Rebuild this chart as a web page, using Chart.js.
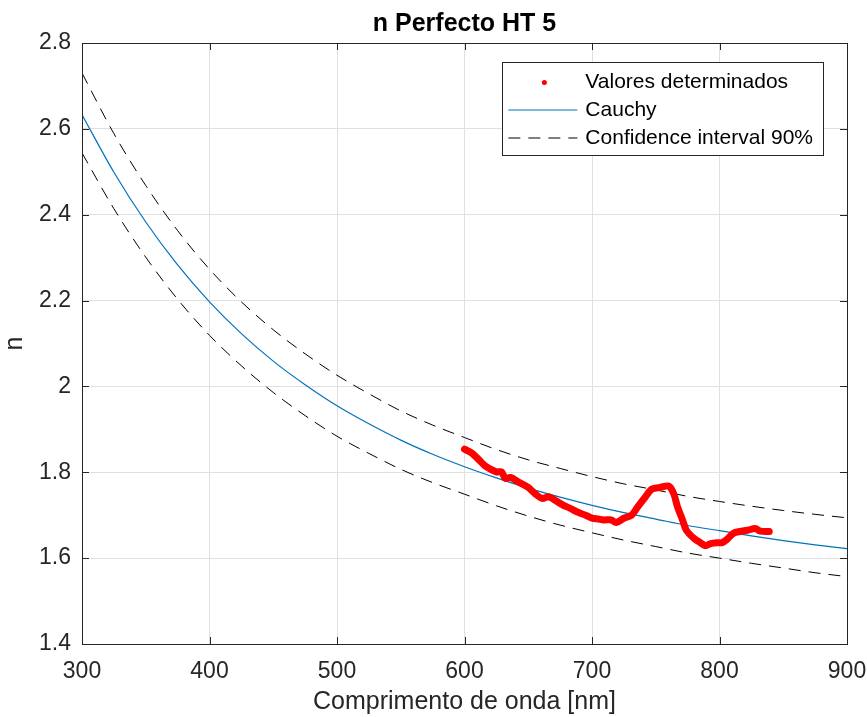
<!DOCTYPE html>
<html>
<head>
<meta charset="utf-8">
<script src="https://cdn.jsdelivr.net/npm/chart.js@4.4.0/dist/chart.umd.min.js"></script>
<style>
    html, body { margin: 0; padding: 0; background: #fff; }
    #wrap { width: 867px; height: 717px; }
</style>
</head>
<body>
<div id="wrap"><canvas id="grafico" width="867" height="717"></canvas></div>
<script>
// Curvas de ajuste, longitud de onda en nm
const lambdaCurva = [300, 325, 350, 375, 400, 425, 450, 475, 500, 525, 550, 575, 600,
                     625, 650, 675, 700, 725, 750, 775, 800, 825, 850, 875, 900];
const nCauchy = [2.633, 2.499, 2.383, 2.283, 2.197, 2.123, 2.059, 2.004, 1.955, 1.913, 1.875, 1.842, 1.813,
                 1.787, 1.763, 1.742, 1.723, 1.706, 1.691, 1.676, 1.664, 1.652, 1.641, 1.631, 1.622];
const nSuperior = [2.730, 2.589, 2.468, 2.363, 2.273, 2.197, 2.132, 2.076, 2.026, 1.983, 1.943, 1.910, 1.881,
                   1.853, 1.829, 1.809, 1.790, 1.773, 1.759, 1.744, 1.732, 1.721, 1.711, 1.702, 1.694];
const nInferior = [2.544, 2.414, 2.301, 2.203, 2.119, 2.048, 1.986, 1.932, 1.884, 1.844, 1.807, 1.776, 1.749,
                   1.722, 1.698, 1.677, 1.659, 1.642, 1.627, 1.612, 1.600, 1.588, 1.577, 1.566, 1.557];

// Valores determinados (puntos rojos)
const lambdaMedida = [600, 606, 611, 617, 625, 629, 632, 636, 642, 650, 655, 661, 666, 671, 677, 683,
                      688, 695, 700, 705, 709, 715, 719, 725, 731, 736, 742, 747, 754, 760, 764, 767,
                      771, 774, 780, 785, 789, 793, 798, 802, 806, 811, 816, 822, 828, 832, 839];
const nMedida = [1.854, 1.844, 1.830, 1.813, 1.801, 1.801, 1.786, 1.788, 1.778, 1.765, 1.751, 1.739, 1.743, 1.735, 1.724, 1.716,
                 1.708, 1.700, 1.693, 1.691, 1.689, 1.689, 1.683, 1.693, 1.700, 1.720, 1.743, 1.761, 1.765, 1.768, 1.751, 1.720,
                 1.689, 1.665, 1.646, 1.636, 1.629, 1.634, 1.636, 1.636, 1.644, 1.658, 1.662, 1.665, 1.669, 1.663, 1.662];

const ticksX = [300, 400, 500, 600, 700, 800, 900];
const ticksY = [1.4, 1.6, 1.8, 2.0, 2.2, 2.4, 2.6, 2.8];

const titulo = 'n Perfecto HT 5';
const etiquetasLeyenda = ['Valores determinados', 'Cauchy', 'Confidence interval 90%'];

const FUENTE = '"Liberation Sans", Arial, Helvetica, sans-serif';
const COLOR_EJE = '#262626';

const pares = (xs, ys) => xs.map((x, i) => ({ x: x, y: ys[i] }));

/**
 * Plugin: marco, ticks hacia dentro, título y leyenda estilo MATLAB
 */
const estiloMatlab = {
    id: 'estiloMatlab',
    afterDatasetsDraw(chart) {
        const ctx = chart.ctx;
        const a = chart.chartArea;
        const sx = chart.scales.x;
        const sy = chart.scales.y;
        const tick = 7;

        ctx.save();
        ctx.strokeStyle = COLOR_EJE;
        ctx.lineWidth = 1;

        // Ticks hacia dentro en los cuatro lados
        ctx.beginPath();
        ticksX.forEach(v => {
            const px = Math.round(sx.getPixelForValue(v)) + 0.5;
            ctx.moveTo(px, a.bottom); ctx.lineTo(px, a.bottom - tick);
            ctx.moveTo(px, a.top); ctx.lineTo(px, a.top + tick);
        });
        ticksY.forEach(v => {
            const py = Math.round(sy.getPixelForValue(v)) + 0.5;
            ctx.moveTo(a.left, py); ctx.lineTo(a.left + tick, py);
            ctx.moveTo(a.right, py); ctx.lineTo(a.right - tick, py);
        });
        ctx.stroke();

        // Marco
        ctx.strokeRect(Math.round(a.left) + 0.5, Math.round(a.top) + 0.5,
                       Math.round(a.right - a.left), Math.round(a.bottom - a.top));

        // Título
        ctx.fillStyle = '#000';
        ctx.font = 'bold 25px ' + FUENTE;
        ctx.textAlign = 'center';
        ctx.textBaseline = 'middle';
        ctx.fillText(titulo, (a.left + a.right) / 2, 24);

        // Leyenda
        ctx.font = '21px ' + FUENTE;
        const anchoTexto = Math.max(...etiquetasLeyenda.map(t => ctx.measureText(t).width));
        const bw = 83 + anchoTexto + 10;
        const bx = a.right - 24 - bw;
        const by = a.top + 19;
        const bh = 93;
        ctx.fillStyle = '#fff';
        ctx.fillRect(bx, by, bw, bh);
        ctx.strokeStyle = COLOR_EJE;
        ctx.strokeRect(Math.round(bx) + 0.5, Math.round(by) + 0.5, Math.round(bw), bh);

        const filas = [by + 20.5, by + 48, by + 76];
        // Punto rojo
        ctx.fillStyle = '#ff0000';
        ctx.beginPath();
        ctx.arc(bx + 42, filas[0], 2.5, 0, Math.PI * 2);
        ctx.fill();
        // Línea Cauchy
        ctx.strokeStyle = '#0072BD';
        ctx.lineWidth = 1.2;
        ctx.beginPath();
        ctx.moveTo(bx + 6, filas[1]); ctx.lineTo(bx + 75, filas[1]);
        ctx.stroke();
        // Línea discontinua
        ctx.strokeStyle = '#000';
        ctx.lineWidth = 1;
        ctx.setLineDash([12, 8]);
        ctx.beginPath();
        ctx.moveTo(bx + 6, filas[2]); ctx.lineTo(bx + 75, filas[2]);
        ctx.stroke();
        ctx.setLineDash([]);

        ctx.fillStyle = '#000';
        ctx.textAlign = 'left';
        etiquetasLeyenda.forEach((t, i) => ctx.fillText(t, bx + 83, filas[i]));
        ctx.restore();
    }
};

new Chart(document.getElementById('grafico'), {
    type: 'scatter',
    data: {
        datasets: [
            {
                label: etiquetasLeyenda[0],
                data: pares(lambdaMedida, nMedida),
                showLine: true,
                borderColor: '#ff0000',
                backgroundColor: '#ff0000',
                borderWidth: 7,
                borderJoinStyle: 'round',
                borderCapStyle: 'round',
                pointRadius: 0,
                tension: 0.3,
                order: 0
            },
            {
                label: etiquetasLeyenda[1],
                data: pares(lambdaCurva, nCauchy),
                showLine: true,
                borderColor: '#0072BD',
                borderWidth: 1.2,
                pointRadius: 0,
                cubicInterpolationMode: 'monotone',
                order: 1
            },
            {
                label: etiquetasLeyenda[2],
                data: pares(lambdaCurva, nSuperior),
                showLine: true,
                borderColor: '#000',
                borderWidth: 1,
                borderDash: [12, 8],
                pointRadius: 0,
                cubicInterpolationMode: 'monotone',
                order: 2
            },
            {
                label: etiquetasLeyenda[2],
                data: pares(lambdaCurva, nInferior),
                showLine: true,
                borderColor: '#000',
                borderWidth: 1,
                borderDash: [12, 8],
                pointRadius: 0,
                cubicInterpolationMode: 'monotone',
                order: 3
            }
        ]
    },
    options: {
        responsive: false,
        animation: false,
        devicePixelRatio: 1,
        layout: { padding: { top: 43, right: 20, bottom: 0, left: 0 } },
        plugins: {
            legend: { display: false },
            tooltip: { enabled: false },
            title: { display: false }
        },
        scales: {
            x: {
                type: 'linear',
                min: 300,
                max: 900,
                afterBuildTicks: s => { s.ticks = ticksX.map(v => ({ value: v })); },
                afterFit: s => { s.height = 73; s.paddingLeft = 0; s.paddingRight = 0; },
                grid: { color: '#e0e0e0', drawTicks: false },
                border: { display: false },
                ticks: {
                    color: COLOR_EJE,
                    padding: 14,
                    maxRotation: 0,
                    font: { family: FUENTE, size: 23 },
                    callback: v => String(v)
                },
                title: {
                    display: true,
                    text: 'Comprimento de onda [nm]',
                    color: COLOR_EJE,
                    padding: { top: 0, bottom: 0 },
                    font: { family: FUENTE, size: 25 }
                }
            },
            y: {
                type: 'linear',
                min: 1.4,
                max: 2.8,
                afterBuildTicks: s => { s.ticks = ticksY.map(v => ({ value: v })); },
                afterFit: s => { s.width = 82; s.paddingTop = 0; s.paddingBottom = 0; },
                grid: { color: '#e0e0e0', drawTicks: false },
                border: { display: false },
                ticks: {
                    color: COLOR_EJE,
                    padding: 11,
                    font: { family: FUENTE, size: 23 },
                    callback: v => String(Math.round(v * 10) / 10)
                },
                title: {
                    display: true,
                    text: 'n',
                    color: COLOR_EJE,
                    padding: { top: 0, bottom: 0 },
                    font: { family: FUENTE, size: 25 }
                }
            }
        }
    },
    plugins: [estiloMatlab]
});
</script>
</body>
</html>
